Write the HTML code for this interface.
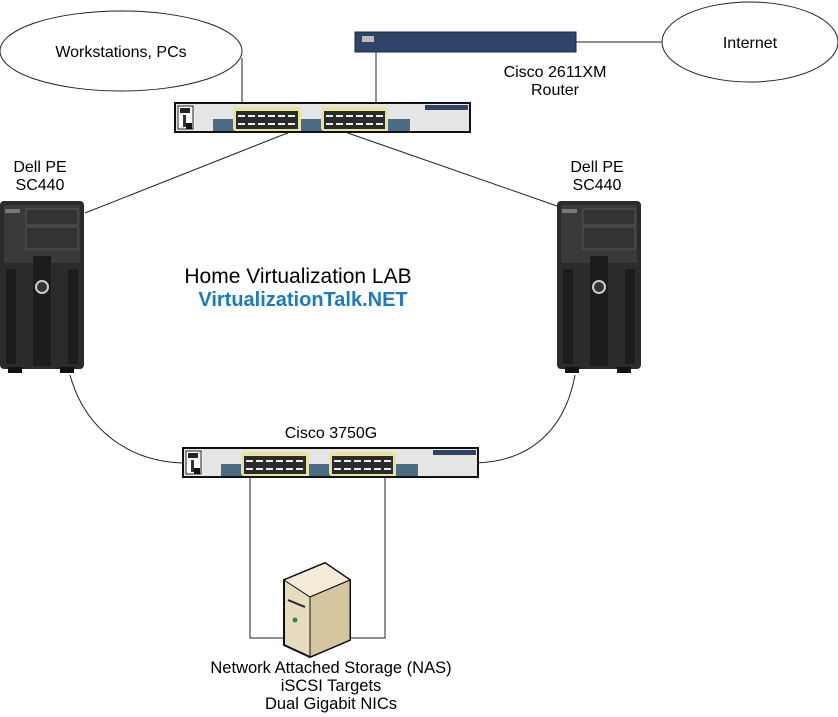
<!DOCTYPE html>
<html><head><meta charset="utf-8"><style>
html,body{margin:0;padding:0;background:#fff;}
svg{display:block;font-family:"Liberation Sans",Arial,sans-serif;}
</style></head><body>
<svg width="838" height="717" viewBox="0 0 838 717" xmlns="http://www.w3.org/2000/svg">
<defs>
<g id="sw">
  <rect x="0" y="0" width="295" height="29" fill="#e6e6e6" stroke="#111" stroke-width="2"/>
  <rect x="3" y="3" width="15" height="23" fill="#fff" stroke="#222"/>
  <rect x="5" y="5" width="10" height="5" fill="#222"/>
  <rect x="8" y="12" width="3" height="12" fill="#333"/>
  <rect x="11" y="20" width="6" height="6" fill="#111"/>
  <rect x="38" y="16" width="22" height="12" fill="#4a6c84"/>
  <rect x="126" y="16" width="22" height="12" fill="#4a6c84"/>
  <rect x="213" y="16" width="22" height="12" fill="#4a6c84"/>
  <rect x="58" y="4" width="68" height="24" rx="3" fill="#e8e49a"/>
  <rect x="61" y="8" width="62" height="18" fill="#2a2a2a"/>
  <rect x="146" y="4" width="67" height="24" rx="3" fill="#e8e49a"/>
  <rect x="149" y="8" width="61" height="18" fill="#2a2a2a"/>
  <line x1="63" y1="13" x2="121" y2="13" stroke="#eee" stroke-width="2" stroke-dasharray="7 3"/>
  <line x1="63" y1="21" x2="121" y2="21" stroke="#eee" stroke-width="2" stroke-dasharray="7 3"/>
  <line x1="151" y1="13" x2="208" y2="13" stroke="#eee" stroke-width="2" stroke-dasharray="7 3"/>
  <line x1="151" y1="21" x2="208" y2="21" stroke="#eee" stroke-width="2" stroke-dasharray="7 3"/>
  <rect x="250" y="2" width="43" height="5" fill="#2f4460"/>
</g>
<g id="dell">
  <rect x="0" y="0" width="84" height="168" rx="4" fill="#2b2b2b"/>
  <rect x="4" y="4" width="76" height="58" fill="#3a3a3a"/>
  <rect x="26" y="8" width="52" height="16" fill="#333" stroke="#555"/>
  <rect x="26" y="26" width="52" height="22" fill="#333" stroke="#555"/>
  <rect x="5" y="8" width="15" height="4" fill="#777"/>
  <rect x="33" y="55" width="18" height="110" fill="#1c1c1c"/>
  <rect x="6" y="68" width="10" height="95" fill="#1c1c1c"/>
  <rect x="68" y="68" width="10" height="95" fill="#1c1c1c"/>
  <circle cx="42" cy="86" r="7" fill="#ccc"/>
  <circle cx="42" cy="86" r="5" fill="#333"/>
  <rect x="8" y="166" width="14" height="6" fill="#111"/>
  <rect x="60" y="166" width="14" height="6" fill="#111"/>
</g>
</defs>

<ellipse cx="121" cy="51" rx="121" ry="40" fill="#fff" stroke="#222"/>
<text x="121" y="57" font-size="16" text-anchor="middle">Workstations, PCs</text>
<ellipse cx="750" cy="42" rx="88" ry="40" fill="#fff" stroke="#222"/>
<text x="750" y="48" font-size="16" text-anchor="middle">Internet</text>

<line x1="576" y1="42" x2="662" y2="42" stroke="#222"/>
<line x1="376" y1="52" x2="376" y2="103" stroke="#222"/>
<line x1="242" y1="58" x2="242" y2="103" stroke="#222"/>
<rect x="355" y="32" width="221" height="20" fill="#2f4468" stroke="#1a2a40"/>
<rect x="362" y="36" width="12" height="6" fill="#bbb"/>
<text x="555" y="77" font-size="16" text-anchor="middle">Cisco 2611XM</text>
<text x="555" y="95" font-size="16" text-anchor="middle">Router</text>

<use href="#sw" x="175" y="103"/>
<line x1="290" y1="132" x2="85" y2="213" stroke="#222"/>
<line x1="345" y1="132" x2="557" y2="206" stroke="#222"/>

<text x="40" y="172" font-size="16" text-anchor="middle">Dell PE</text>
<text x="40" y="190" font-size="16" text-anchor="middle">SC440</text>
<text x="597" y="172" font-size="16" text-anchor="middle">Dell PE</text>
<text x="597" y="190" font-size="16" text-anchor="middle">SC440</text>
<use href="#dell" x="0" y="201"/>
<use href="#dell" x="557" y="201"/>

<text x="298" y="283" font-size="21" text-anchor="middle">Home Virtualization LAB</text>
<text x="303" y="306" font-size="20" font-weight="bold" fill="#1a7ac4" text-anchor="middle">VirtualizationTalk.NET</text>

<path d="M70 375 C 85 430, 130 462, 184 463" fill="none" stroke="#222"/>
<path d="M575 375 C 565 430, 530 462, 474 463" fill="none" stroke="#222"/>
<text x="331" y="438" font-size="16" text-anchor="middle">Cisco 3750G</text>
<use href="#sw" x="183" y="448"/>

<polyline points="250,477 250,638 284,638" fill="none" stroke="#222"/>
<polyline points="385,477 385,638 350,638" fill="none" stroke="#222"/>
<polygon points="284,580 325,563 350,580 350,640 310,657 284,645" fill="#e8dcc0" stroke="#111" stroke-width="2"/>
<polygon points="284,580 325,563 350,580 310,597" fill="#f4ecd8" stroke="#111"/>
<polygon points="310,597 350,580 350,640 310,657" fill="#d6c6a0" stroke="#111"/>
<circle cx="295" cy="620" r="2.5" fill="#2a8a4a"/>
<line x1="288" y1="600" x2="305" y2="607" stroke="#222" stroke-width="2"/>

<text x="331" y="673" font-size="16.5" text-anchor="middle">Network Attached Storage (NAS)</text>
<text x="331" y="691" font-size="16.5" text-anchor="middle">iSCSI Targets</text>
<text x="331" y="709" font-size="16.5" text-anchor="middle">Dual Gigabit NICs</text>
</svg>
</body></html>
